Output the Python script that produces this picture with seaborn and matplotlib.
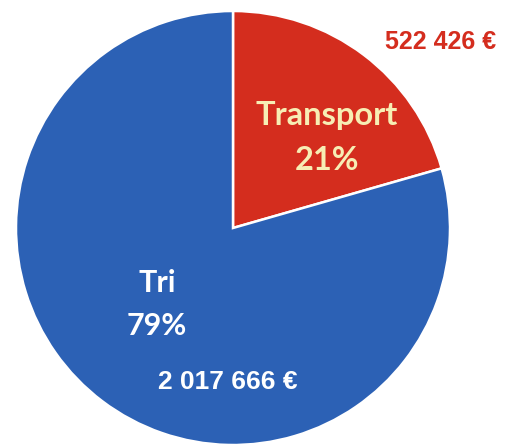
import matplotlib.pyplot as plt
import seaborn as sns

sns.set_style("white")
plt.rcParams["font.family"] = ["Lato", "DejaVu Sans"]

categories = ["Transport", "Tri"]
amounts = [522426, 2017666]
amount_labels = ["522 426 €", "2 017 666 €"]
colors = ["#d42d1e", "#2c61b5"]

total = sum(amounts)
pcts = ["%d%%" % round(a * 100.0 / total) for a in amounts]

fig = plt.figure(figsize=(5.09, 4.44), dpi=100)
ax = fig.add_axes([0, 0, 1, 1])

R = 217.0
cx, cy = 233.0, 228.0  # pie centre in pixels (from top)


def px(x, y):
    return (x - cx) / R, (cy - y) / R


ax.pie(
    amounts,
    colors=colors,
    startangle=90,
    counterclock=False,
    radius=1,
    wedgeprops={"edgecolor": "white", "linewidth": 1.8},
)

ax.set_xlim(-cx / R, (509 - cx) / R)
ax.set_ylim(-(444 - cy) / R, cy / R)
ax.set_aspect("equal")
ax.axis("off")

# Transport labels
x, y = px(327, 115)
ax.text(x, y, categories[0], color="#f7eeb4", fontsize=23.5, fontweight="bold",
        ha="center", va="center")
x, y = px(327, 160)
ax.text(x, y, pcts[0], color="#f7eeb4", fontsize=23.5, fontweight="bold",
        ha="center", va="center")
x, y = px(441, 42)
ax.text(x, y, amount_labels[0], color="#d42d1e", fontsize=18, fontweight="bold",
        ha="center", va="center", family=["Liberation Sans", "DejaVu Sans"])

# Tri labels
x, y = px(157, 283)
ax.text(x, y, categories[1], color="white", fontsize=22, fontweight="bold",
        ha="center", va="center")
x, y = px(157, 326)
ax.text(x, y, pcts[1], color="white", fontsize=22, fontweight="bold",
        ha="center", va="center")
x, y = px(228, 382)
ax.text(x, y, amount_labels[1], color="white", fontsize=19, fontweight="bold",
        ha="center", va="center", family=["Liberation Sans", "DejaVu Sans"])

fig.savefig("out.png", dpi=100, facecolor="white")
